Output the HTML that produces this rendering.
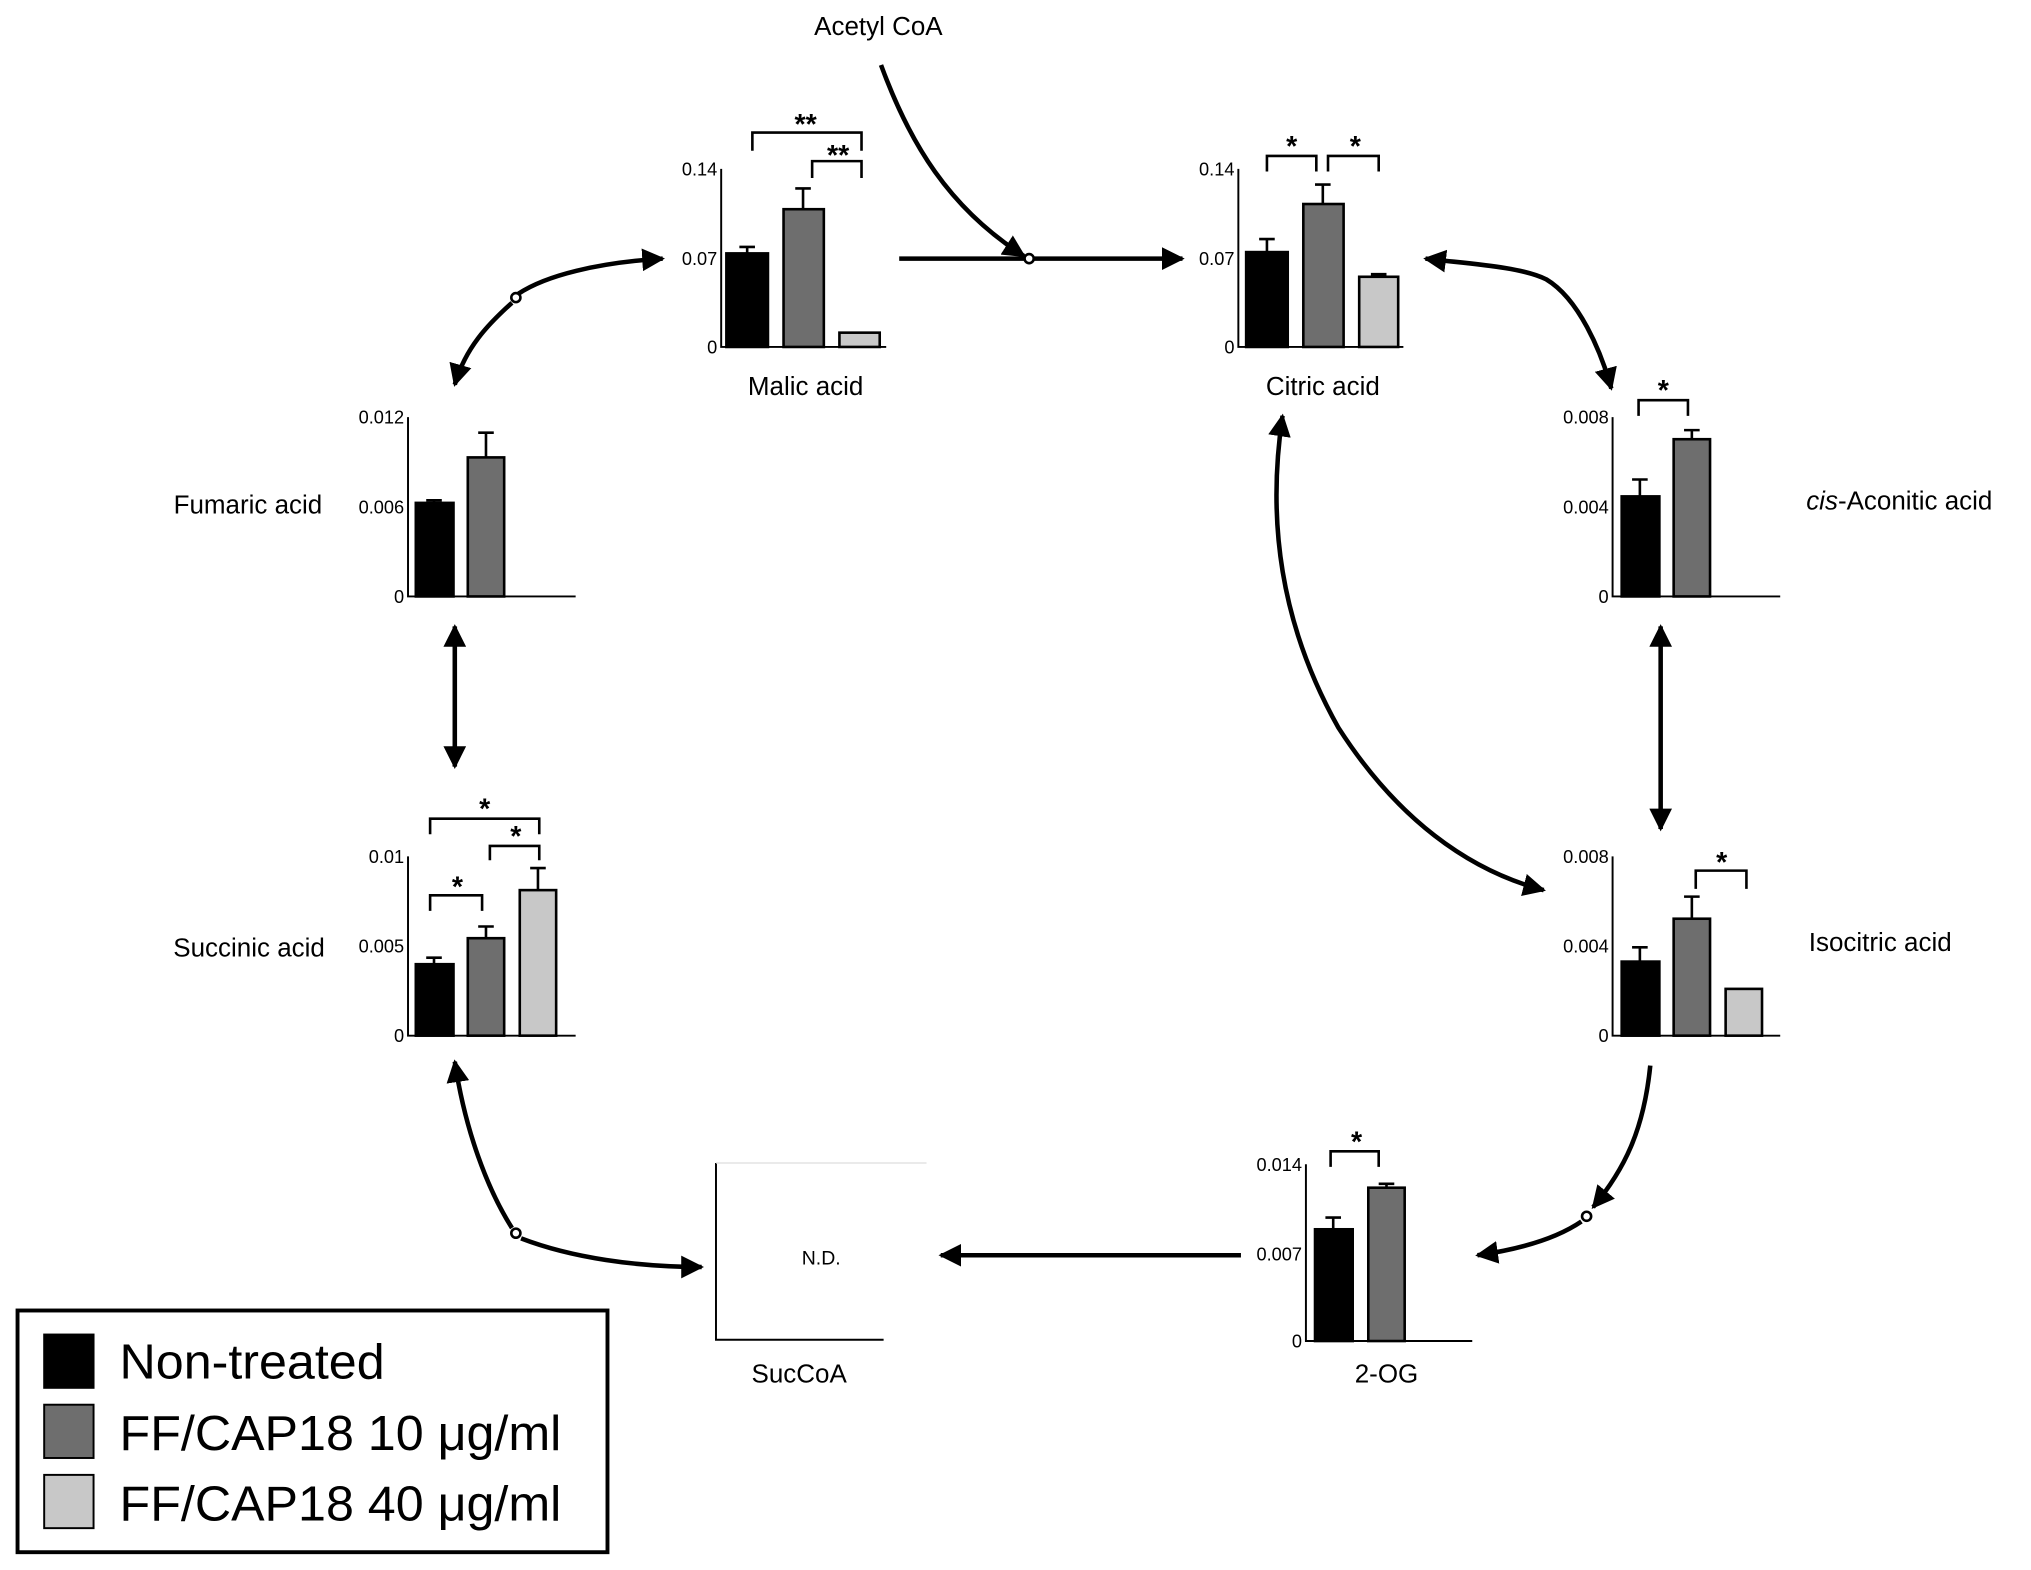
<!DOCTYPE html>
<html><head><meta charset="utf-8"><style>
html,body{margin:0;padding:0;background:#fff;}
svg{display:block;}
text{font-family:"Liberation Sans",Arial,sans-serif;fill:#000;}
.t{font-size:14px;}
.l{font-size:20px;}
.s{font-size:22px;font-weight:bold;}
</style></head><body>
<svg width="2031" height="1570" viewBox="0 0 1563 1208.2" preserveAspectRatio="none" xmlns="http://www.w3.org/2000/svg">
<defs>
<marker id="ah" viewBox="0 0 10 10" refX="9" refY="5" markerWidth="5" markerHeight="5" orient="auto-start-reverse" markerUnits="strokeWidth">
<path d="M0,0 L10,5 L0,10 z" fill="#000"/></marker>
</defs>
<g fill="none" stroke="#000" stroke-width="3.5">
<!-- acetyl CoA -->
<path d="M678,50 C700,110 730,160 788,197" marker-end="url(#ah)"/>
<line x1="692" y1="199" x2="788" y2="199"/>
<line x1="796" y1="199" x2="910" y2="199" marker-end="url(#ah)"/>
<!-- malic-fumaric -->
<path d="M510,199 C460,202 420,212 399,226" marker-start="url(#ah)"/>
<path d="M394,233 C375,250 358,268 350,296" marker-end="url(#ah)"/>
<!-- citric-cis -->
<path d="M1097,199 C1130,203 1170,205 1190,215 C1215,230 1232,270 1240,299" marker-start="url(#ah)" marker-end="url(#ah)"/>
<!-- vertical -->
<line x1="350" y1="482" x2="350" y2="590" marker-start="url(#ah)" marker-end="url(#ah)"/>
<line x1="1278" y1="482" x2="1278" y2="638" marker-start="url(#ah)" marker-end="url(#ah)"/>
<!-- citric-isocitric -->
<path d="M987,320 C975,400 985,480 1030,560 C1075,630 1130,670 1188,685" marker-start="url(#ah)" marker-end="url(#ah)"/>
<!-- isocitric-2OG -->
<path d="M1270,820 C1265,870 1250,900 1226,929" marker-end="url(#ah)"/>
<path d="M1217,940 C1195,955 1165,962 1137,966" marker-end="url(#ah)"/>
<!-- 2OG-SucCoA -->
<line x1="955" y1="966" x2="724" y2="966" marker-end="url(#ah)"/>
<!-- succinic-succoa -->
<path d="M350,817 C358,870 375,915 394,945" marker-start="url(#ah)"/>
<path d="M401,953 C440,968 490,975 540,975" marker-end="url(#ah)"/>
</g>
<g fill="#fff" stroke="#000" stroke-width="2">
<circle cx="792" cy="199" r="3.5"/><circle cx="397" cy="229" r="3.5"/>
<circle cx="1221" cy="936" r="3.5"/><circle cx="397" cy="949" r="3.5"/>
</g>

<!-- charts: axes -->
<g stroke="#000" stroke-width="1.5" fill="none">
<path d="M555,130 V267 H682"/>
<path d="M953,130 V267 H1080"/>
<path d="M314,321 V459 H443"/>
<path d="M1241,321 V459 H1370"/>
<path d="M314,659 V797 H443"/>
<path d="M1241,659 V797 H1370"/>
<path d="M1005,896 V1032 H1133"/>
<path d="M551,895 V1031 H680"/>
</g>
<line x1="551" y1="895" x2="713" y2="895" stroke="#ddd" stroke-width="1"/>

<!-- bars -->
<g stroke="#000" stroke-width="2">
<!-- malic -->
<rect x="559" y="195" width="32" height="72" fill="#000"/>
<rect x="603" y="161" width="31" height="106" fill="#6e6e6e"/>
<rect x="646" y="256" width="31" height="11" fill="#c8c8c8"/>
<!-- citric -->
<rect x="959" y="194" width="32" height="73" fill="#000"/>
<rect x="1003" y="157" width="31" height="110" fill="#6e6e6e"/>
<rect x="1046" y="213" width="30" height="54" fill="#c8c8c8"/>
<!-- fumaric -->
<rect x="320" y="387" width="29" height="72" fill="#000"/>
<rect x="360" y="352" width="28" height="107" fill="#6e6e6e"/>
<!-- cis -->
<rect x="1248" y="382" width="29" height="77" fill="#000"/>
<rect x="1288" y="338" width="28" height="121" fill="#6e6e6e"/>
<!-- succinic -->
<rect x="320" y="742" width="29" height="55" fill="#000"/>
<rect x="360" y="722" width="28" height="75" fill="#6e6e6e"/>
<rect x="400" y="685" width="28" height="112" fill="#c8c8c8"/>
<!-- isocitric -->
<rect x="1248" y="740" width="29" height="57" fill="#000"/>
<rect x="1288" y="707" width="28" height="90" fill="#6e6e6e"/>
<rect x="1328" y="761" width="28" height="36" fill="#c8c8c8"/>
<!-- 2OG -->
<rect x="1012" y="946" width="29" height="86" fill="#000"/>
<rect x="1053" y="914" width="28" height="118" fill="#6e6e6e"/>
</g>
<!-- error bars -->
<g stroke="#000" stroke-width="2" fill="none">
<path d="M575,195 V190 M569,190 H581"/>
<path d="M618,161 V145 M612,145 H624"/>
<path d="M975,194 V184 M969,184 H981"/>
<path d="M1018,157 V142 M1012,142 H1024"/>
<path d="M1061,213 V211 M1055,211 H1067"/>
<path d="M334,387 V385 M328,385 H340"/>
<path d="M374,352 V333 M368,333 H380"/>
<path d="M1262,382 V369 M1256,369 H1268"/>
<path d="M1302,338 V331 M1296,331 H1308"/>
<path d="M334,742 V737 M328,737 H340"/>
<path d="M374,722 V713 M368,713 H380"/>
<path d="M414,685 V668 M408,668 H420"/>
<path d="M1262,740 V729 M1256,729 H1268"/>
<path d="M1302,707 V690 M1296,690 H1308"/>
<path d="M1026,946 V937 M1020,937 H1032"/>
<path d="M1067,914 V911 M1061,911 H1073"/>
</g>
<!-- significance brackets -->
<g stroke="#000" stroke-width="2" fill="none">
<path d="M579,116 V102 H663 V116"/>
<path d="M625,137 V124 H663 V137"/>
<path d="M975,132 V120 H1013 V132"/>
<path d="M1022,132 V120 H1061 V132"/>
<path d="M1261,320 V308 H1299 V320"/>
<path d="M331,642 V630 H415 V642"/>
<path d="M377,662 V651 H415 V662"/>
<path d="M331,701 V689 H371 V701"/>
<path d="M1305,684 V670 H1344 V684"/>
<path d="M1024,898 V886 H1061 V898"/>
</g>
<g class="s" text-anchor="middle">
<text x="620" y="103" class="s">**</text>
<text x="645" y="127" class="s">**</text>
<text x="994" y="120" class="s">*</text>
<text x="1043" y="120" class="s">*</text>
<text x="1280" y="308" class="s">*</text>
<text x="373" y="630" class="s">*</text>
<text x="397" y="651" class="s">*</text>
<text x="352" y="690" class="s">*</text>
<text x="1325" y="671" class="s">*</text>
<text x="1044" y="886" class="s">*</text>
</g>
<!-- tick labels -->
<g class="t" text-anchor="end">
<text x="552" y="135">0.14</text><text x="552" y="204">0.07</text><text x="552" y="272">0</text>
<text x="950" y="135">0.14</text><text x="950" y="204">0.07</text><text x="950" y="272">0</text>
<text x="311" y="326">0.012</text><text x="311" y="395">0.006</text><text x="311" y="464">0</text>
<text x="1238" y="326">0.008</text><text x="1238" y="395">0.004</text><text x="1238" y="464">0</text>
<text x="311" y="664">0.01</text><text x="311" y="733">0.005</text><text x="311" y="802">0</text>
<text x="1238" y="664">0.008</text><text x="1238" y="733">0.004</text><text x="1238" y="802">0</text>
<text x="1002" y="901">0.014</text><text x="1002" y="970">0.007</text><text x="1002" y="1037">0</text>
</g>
<!-- labels -->
<g class="l">
<text x="620" y="304" text-anchor="middle">Malic acid</text>
<text x="1018" y="304" text-anchor="middle">Citric acid</text>
<text x="248" y="395" text-anchor="end">Fumaric acid</text>
<text x="1390" y="392"><tspan font-style="italic">cis</tspan>-Aconitic acid</text>
<text x="250" y="736" text-anchor="end">Succinic acid</text>
<text x="1392" y="732">Isocitric acid</text>
<text x="1067" y="1064" text-anchor="middle">2-OG</text>
<text x="615" y="1064" text-anchor="middle">SucCoA</text>
<text x="676" y="27" text-anchor="middle">Acetyl CoA</text>
</g>
<text x="632" y="973" text-anchor="middle" style="font-size:15px">N.D.</text>
<!-- legend -->
<rect x="13.5" y="1008.5" width="454" height="186" fill="none" stroke="#000" stroke-width="3"/>
<rect x="34" y="1027" width="38" height="41" fill="#000" stroke="#000" stroke-width="1.5"/>
<rect x="34" y="1081" width="38" height="41" fill="#6e6e6e" stroke="#000" stroke-width="1.5"/>
<rect x="34" y="1135" width="38" height="41" fill="#c8c8c8" stroke="#000" stroke-width="1.5"/>
<text x="92" y="1061" style="font-size:38px" textLength="204" lengthAdjust="spacingAndGlyphs">Non-treated</text>
<text x="92" y="1116" style="font-size:38px" textLength="340" lengthAdjust="spacingAndGlyphs">FF/CAP18 10 μg/ml</text>
<text x="92" y="1170" style="font-size:38px" textLength="340" lengthAdjust="spacingAndGlyphs">FF/CAP18 40 μg/ml</text>
</svg>
</body></html>
